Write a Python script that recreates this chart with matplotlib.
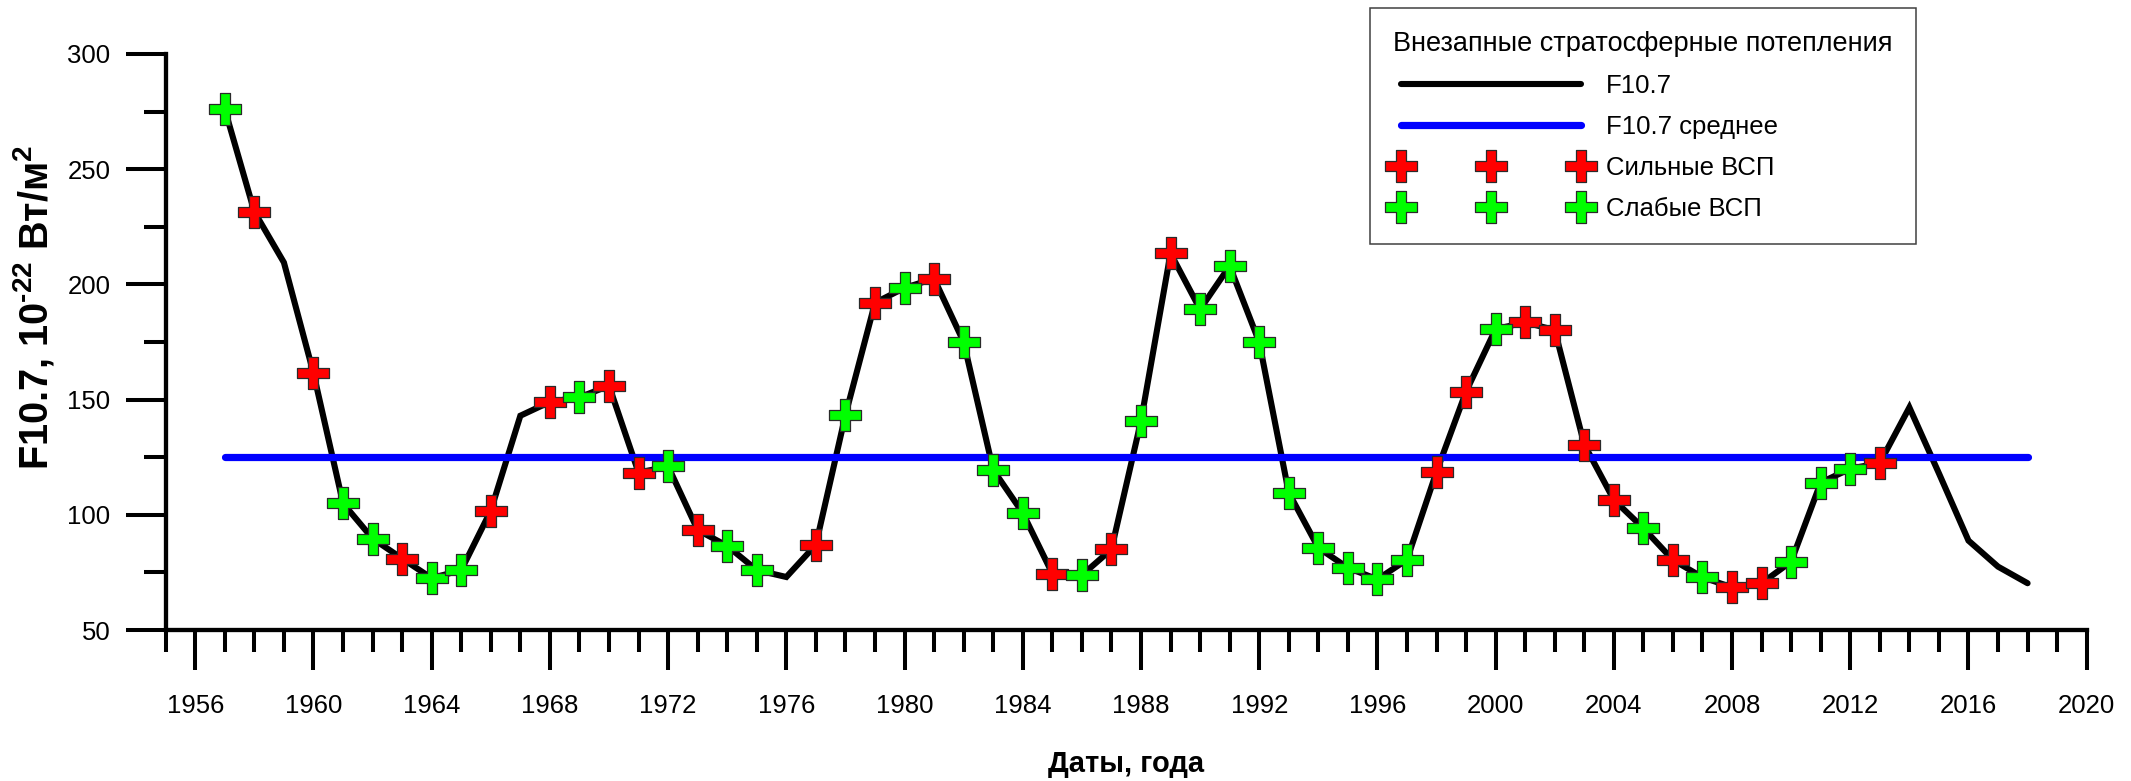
import matplotlib
matplotlib.use("Agg")
import matplotlib.pyplot as plt
from matplotlib.ticker import MultipleLocator, FixedLocator
import numpy as np

plt.rcParams['font.family'] = ['Liberation Sans', 'DejaVu Sans']
plt.rcParams['mathtext.fontset'] = 'custom'
plt.rcParams['mathtext.rm'] = 'Liberation Sans'
plt.rcParams['mathtext.bf'] = 'Liberation Sans:bold'

# Annual mean F10.7 solar radio flux
years = list(range(1957, 2019))
f107 = [276, 231.5, 209.5, 161.5, 105, 89.7, 81, 72.5, 76, 101.8,
        143, 149, 151, 156, 118.3, 121, 93.4, 86.5, 76, 73,
        87, 143.3, 192, 198.5, 202.5, 175, 119.5, 100.8, 74.5, 73.8,
        85, 140.7, 213.5, 189.2, 208, 175, 109.6, 85.7, 77, 72,
        80.5, 118.7, 153.5, 180.6, 183.5, 180.2, 130.5, 106.5, 94.2, 80.4,
        72.9, 68.5, 70.3, 79.7, 114, 120, 122.5, 146.6, 118, 88.8,
        77.5, 70.3]
f107_mean = 125

# Years with major (strong) and minor (weak) sudden stratospheric warmings
strong_years = [1958, 1960, 1963, 1966, 1968, 1970, 1971, 1973, 1977, 1979,
                1981, 1985, 1987, 1989, 1998, 1999, 2001, 2002, 2003, 2004,
                2006, 2008, 2009, 2013]
weak_years = [1957, 1961, 1962, 1964, 1965, 1969, 1972, 1974, 1975, 1978,
              1980, 1982, 1983, 1984, 1986, 1988, 1990, 1991, 1992, 1993,
              1994, 1995, 1996, 1997, 2000, 2005, 2007, 2010, 2011, 2012]

flux = dict(zip(years, f107))
strong_vals = [flux[y] for y in strong_years]
weak_vals = [flux[y] for y in weak_years]

# thick plus-shaped marker
a = 0.16
plus = [(-a, -0.5), (a, -0.5), (a, -a), (0.5, -a), (0.5, a), (a, a),
        (a, 0.5), (-a, 0.5), (-a, a), (-0.5, a), (-0.5, -a), (-a, -a),
        (-a, -0.5)]

fig = plt.figure(figsize=(21.31, 7.81), dpi=100)
ax = fig.add_axes([0.07776, 0.19334, 0.97921 - 0.07776, 0.93086 - 0.19334])

ax.plot(years, f107, color='black', lw=4.4, solid_joinstyle='miter',
        solid_capstyle='round', zorder=2, label='F10.7')
ax.plot([years[0], years[-1]], [f107_mean, f107_mean], color='#0000ff', lw=5.2,
        solid_capstyle='round', zorder=3, label='F10.7 среднее')
mk = dict(linestyle='none', marker=plus, markersize=23, markeredgecolor='#2a2a2a',
          markeredgewidth=0.9, zorder=4)
ax.plot(strong_years, strong_vals, markerfacecolor='#ff0000', label='Сильные ВСП', **mk)
ax.plot(weak_years, weak_vals, markerfacecolor='#00ff00', label='Слабые ВСП', **mk)

ax.set_xlim(1955, 2020)
ax.set_ylim(50, 300)

for s in ['top', 'right']:
    ax.spines[s].set_visible(False)
for s in ['left', 'bottom']:
    ax.spines[s].set_linewidth(3.1)
    ax.spines[s].set_capstyle('projecting')

ax.xaxis.set_major_locator(FixedLocator(list(range(1956, 2021, 4))))
ax.xaxis.set_minor_locator(MultipleLocator(1))
ax.yaxis.set_major_locator(MultipleLocator(50))
ax.yaxis.set_minor_locator(FixedLocator([75, 125, 175, 225, 275]))

ax.tick_params(axis='x', which='major', direction='out', length=28.8, width=2.9,
               pad=17, labelsize=18.5)
ax.tick_params(axis='x', which='minor', direction='out', length=15.6, width=2.9)
ax.tick_params(axis='y', which='major', direction='out', length=28.8, width=2.9,
               pad=11, labelsize=18.5)
ax.tick_params(axis='y', which='minor', direction='out', length=15.6, width=2.9)

ax.set_xlabel('Даты, года', fontsize=21, fontweight='bold')
ax.xaxis.set_label_coords(0.5, -0.208)
ax.set_ylabel('F10.7, 10$^{\\mathbf{\u201022}}$ Вт/м$^{\\mathbf{2}}$', fontsize=28.5,
              fontweight='bold')
ax.yaxis.set_label_coords(-0.057, 0.56)

leg = ax.legend(loc='upper left', bbox_to_anchor=(0.6269, 1.0799),
                borderaxespad=0, numpoints=3, fontsize=18.5, alignment='left',
                title='Внезапные стратосферные потепления', title_fontsize=19.5,
                handlelength=7.6, handletextpad=0.7, labelspacing=0.66,
                borderpad=0.9, fancybox=False, framealpha=1, edgecolor='#404040')
leg.get_frame().set_linewidth(1.1)

fig.savefig('out.png', dpi=100)
